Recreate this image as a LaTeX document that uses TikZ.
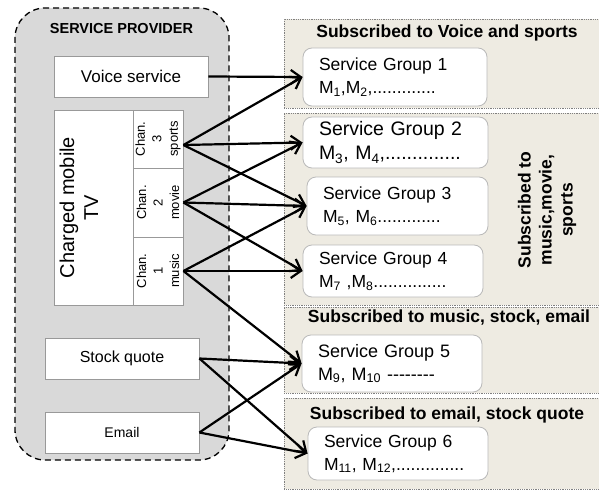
\documentclass[tikz,border=0pt]{standalone}
\usepackage{fontspec}
\setmainfont{Liberation Sans}
\usetikzlibrary{arrows.meta}
\definecolor{spgray}{RGB}{217,217,217}
\definecolor{pnl}{RGB}{238,235,226}
\newcommand{\Msub}[1]{M\textsubscript{#1}}

\begin{document}
\begin{tikzpicture}[x=1pt, y=-1pt,
  box/.style={draw=gray!80, fill=white, inner sep=0pt, line width=0.8pt},
  chan/.style={box, rotate=90, minimum height=50pt, align=center,
               font=\fontsize{13}{16.5}\selectfont},
  panel/.style={draw=gray, densely dotted, fill=pnl, anchor=west,
                minimum width=320pt, inner sep=0pt, line width=0.8pt},
  grp/.style={draw=gray!55, rounded corners=9pt, fill=white, align=left,
              inner xsep=16pt, inner ysep=0pt, line width=0.8pt},
  ttl/.style={font=\bfseries\fontsize{17.5}{21}\selectfont},
  ar/.style={-{Straight Barb[length=10pt,width=14pt]}, line width=2.2pt}]
\useasboundingbox[fill=white] (0,0) rectangle (599,492);
\node[draw, dash pattern=on 6pt off 4pt, line width=1.3pt, fill=spgray,
      rounded corners=30pt, minimum width=214pt, minimum height=452pt]
      (prov) at (122,234) {};
\node[font=\bfseries\fontsize{14.5}{17}\selectfont] (provttl) at (121.5,29) {SERVICE PROVIDER};
\node[box, minimum width=154pt, minimum height=41pt, font=\fontsize{17}{20}\selectfont]
      (voice) at (131,76.5) {Voice service};
\node[box, minimum width=79pt, minimum height=195pt] (tv) at (93.5,207.5) {};
\node[rotate=90, align=center, font=\fontsize{20}{24}\selectfont] (tvtxt) at (79,207.5)
      {Charged mobile\\TV};
\node[chan, minimum width=58pt] (ch3) at (158,139) {Chan.\\3\\sports};
\node[chan, minimum width=69pt] (ch2) at (158,202.5) {Chan.\\2\\movie};
\node[chan, minimum width=68pt] (ch1) at (158,271) {Chan.\\1\\music};
\node[box, minimum width=154pt, minimum height=41pt, font=\fontsize{16}{19}\selectfont]
      (stock) at (122,358.5) {Stock quote};
\node[box, minimum width=154pt, minimum height=41pt, font=\fontsize{14}{17}\selectfont]
      (email) at (122,432.5) {Email};
\node[panel, minimum height=89pt]  (p1) at (284,63.5) {};
\node[panel, minimum height=192pt] (p2) at (284,209) {};
\node[panel, minimum height=86pt]  (p3) at (284,350) {};
\node[panel, minimum height=91pt]  (p4) at (284,443.5) {};
\node[ttl] (t1) at (447,33) {Subscribed to Voice and sports};
\node[ttl, rotate=90, align=center] (t2) at (547,210) {Subscribed to\\music,movie,\\sports};
\node[ttl] (t3) at (449,318) {Subscribed to music, stock, email};
\node[ttl] (t4) at (447,415) {Subscribed to email, stock quote};
\node[grp, text width=152pt, minimum height=58pt, font=\fontsize{17.5}{23}\selectfont]
      (g1) at (395,77) {Service Group 1\\\Msub{1},\Msub{2},.............};
\node[grp, text width=153pt, minimum height=51pt, font=\fontsize{19.5}{24}\selectfont]
      (g2) at (395.5,142.5) {Service Group 2\\\Msub{3}, \Msub{4},..............};
\node[grp, text width=149pt, minimum height=58pt, font=\fontsize{17.5}{23}\selectfont]
      (g3) at (397.5,206) {Service Group 3\\\Msub{5}, \Msub{6}.............};
\node[grp, text width=148pt, minimum height=52pt, font=\fontsize{17.5}{23}\selectfont]
      (g4) at (393,271) {Service Group 4\\\Msub{7} ,\Msub{8}...............};
\node[grp, text width=148pt, minimum height=57pt, font=\fontsize{18}{23}\selectfont]
      (g5) at (392,363.5) {Service Group 5\\\Msub{9}, \Msub{10} -{}-{}-{}-{}-{}-{}-{}-};
\node[grp, text width=148pt, minimum height=53pt, font=\fontsize{17.5}{23}\selectfont]
      (g6) at (398,453.5) {Service Group 6\\\Msub{11}, \Msub{12},..............};
\draw[ar] (voice.east) -- (g1.west);
\draw[ar] ([yshift=-6pt]ch3.south) -- (g1.west);
\draw[ar] ([yshift=-6pt]ch3.south) -- (g2.west);
\draw[ar] ([yshift=-6pt]ch3.south) -- (g3.west);
\draw[ar] (ch2.south) -- (g2.west);
\draw[ar] (ch2.south) -- (g3.west);
\draw[ar] (ch2.south) -- (g4.west);
\draw[ar] (ch1.south) -- (g3.west);
\draw[ar] (ch1.south) -- (g4.west);
\draw[ar] (ch1.south) -- (g5.west);
\draw[ar] (stock.east) -- (g5.west);
\draw[ar] (stock.east) -- (g6.west);
\draw[ar] (email.east) -- (g5.west);
\draw[ar] (email.east) -- (g6.west);
\end{tikzpicture}
\end{document}
